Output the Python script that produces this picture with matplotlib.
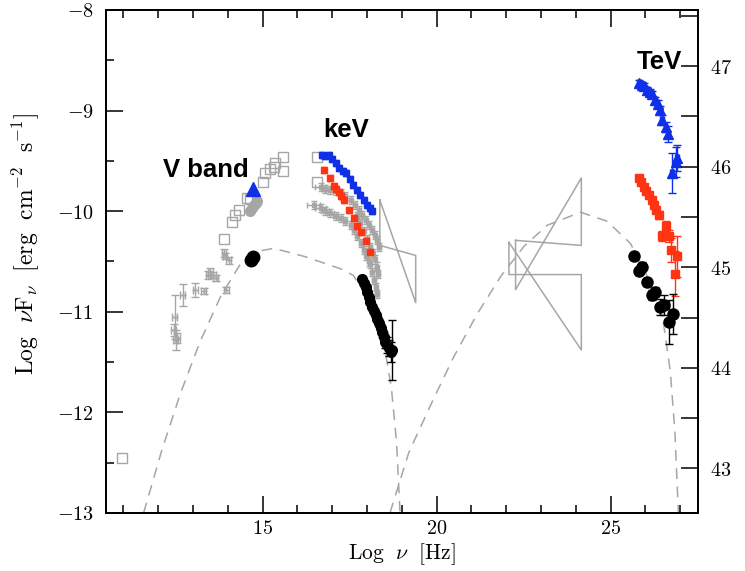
import matplotlib
matplotlib.use("Agg")
import matplotlib.pyplot as plt
from matplotlib.ticker import MultipleLocator, FuncFormatter

plt.rcParams["mathtext.fontset"] = "cm"
plt.rcParams["font.family"] = "DejaVu Serif"

GREY = "#a6a6a6"
BLUE = "#1030e8"
RED = "#ff3412"

# ---- model curves ----
sync_x = [11.58, 12.1, 12.64, 13.2, 13.79, 14.37, 14.99, 15.32, 15.66, 16.2, 16.8, 17.3,
          17.61, 18.0, 18.3, 18.5, 18.7, 18.85, 18.95]
sync_y = [-13.0, -12.38, -11.81, -11.3, -10.85, -10.52, -10.39, -10.37, -10.40, -10.45,
          -10.52, -10.58, -10.64, -10.85, -11.1, -11.35, -11.75, -12.3, -13.0]
ic_x = [18.66, 19.2, 19.92, 20.49, 21.17, 21.84, 22.51, 23.18, 24.14, 24.9, 25.57, 26.0,
        26.52, 26.72, 26.85, 26.95]
ic_y = [-13.0, -12.4, -11.86, -11.45, -11.02, -10.65, -10.35, -10.14, -10.01, -10.10,
        -10.32, -10.6, -11.11, -11.6, -12.2, -13.0]

# ---- bowties (left x, right x, left y pair, right y pair) ----
bow_xray = (18.37, 19.40, (-9.89, -10.34), (-10.91, -10.44))
bow_gev_a = (22.08, 24.16, (-10.31, -10.63), (-11.38, -10.63))
bow_gev_b = (22.27, 24.16, (-10.29, -10.78), (-10.34, -9.67))

# ---- archival grey open squares ----
sq_x = [10.95, 13.89, 14.11, 14.22, 14.33, 14.56, 14.63, 15.02, 15.06, 15.20, 15.33,
        15.36, 15.59, 15.59, 16.57, 16.57]
sq_y = [-12.45, -10.28, -10.11, -10.04, -9.99, -9.87, -9.88, -9.71, -9.62, -9.58, -9.56,
        -9.52, -9.46, -9.60, -9.46, -9.71]

# ---- archival grey IR/optical crosses ----
ir_x = [12.45, 12.50, 12.55, 12.48, 12.71, 13.07, 13.31, 13.43, 13.50, 13.58, 13.65,
        13.89, 13.92, 14.03, 13.96]
ir_y = [-11.18, -11.28, -11.26, -11.05, -10.83, -10.78, -10.79, -10.63, -10.60, -10.63,
        -10.66, -10.42, -10.45, -10.49, -10.78]
ir_yerr = [0.06, 0.1, 0.05, 0.22, 0.11, 0.07, 0.03, 0.04, 0.04, 0.03, 0.03, 0.04, 0.03,
           0.03, 0.03]

# ---- V band ----
vgrey_x = [14.65, 14.70, 14.75, 14.80, 14.85]
vgrey_y = [-10.00, -9.97, -9.94, -9.92, -9.90]
vblue_x = [14.73]
vblue_y = [-9.78]
vblack_x = [14.66, 14.72]
vblack_y = [-10.49, -10.46]

# ---- keV ----
xblue_x = [16.70, 16.80, 16.90, 17.0, 17.1, 17.2, 17.3, 17.4, 17.5, 17.6, 17.7, 17.8,
           17.9, 18.0, 18.1, 18.15]
xblue_y = [-9.44, -9.45, -9.44, -9.48, -9.52, -9.57, -9.60, -9.62, -9.68, -9.74, -9.79,
           -9.84, -9.89, -9.94, -9.97, -10.0]
xred_x = [16.76, 16.93, 17.05, 17.12, 17.19, 17.26, 17.34, 17.48, 17.62, 17.72, 17.84,
          17.96, 18.10]
xred_y = [-9.59, -9.67, -9.75, -9.78, -9.81, -9.85, -9.89, -9.99, -10.07, -10.15, -10.21,
          -10.30, -10.41]
xg1_x = [16.67, 16.80, 16.95, 17.10, 17.24, 17.38, 17.53, 17.65, 17.77, 17.87, 17.96,
         18.05, 18.15, 18.22, 18.29, 18.35]
xg1_y = [-9.76, -9.78, -9.79, -9.80, -9.82, -9.85, -9.89, -9.94, -9.99, -10.04, -10.09,
         -10.14, -10.19, -10.24, -10.29, -10.36]
xg1_xerr = [0.15, 0.1, 0.12, 0.08, 0.06, 0.05, 0.05, 0.05, 0.05, 0.05, 0.05, 0.05, 0.05,
            0.05, 0.05, 0.05]
xg2_x = [16.47, 16.67, 16.80, 16.95, 17.10, 17.24, 17.38, 17.53, 17.63, 17.72, 17.82,
         17.91, 17.98, 18.05, 18.10, 18.15, 18.20, 18.25, 18.29]
xg2_y = [-9.94, -9.97, -10.00, -10.02, -10.05, -10.07, -10.10, -10.14, -10.19, -10.25,
         -10.32, -10.39, -10.45, -10.50, -10.52, -10.60, -10.68, -10.75, -10.82]
xg2_xerr = [0.18, 0.15, 0.12, 0.1, 0.08, 0.07, 0.06, 0.06, 0.06, 0.06, 0.05, 0.05, 0.05,
            0.05, 0.05, 0.05, 0.05, 0.05, 0.05]
xg3_x = [17.70, 17.80, 17.90, 18.00, 18.08, 18.16, 18.22, 18.28, 18.33]
xg3_y = [-10.05, -10.12, -10.20, -10.28, -10.36, -10.42, -10.48, -10.55, -10.62]
xblack_x = [17.86, 17.91, 17.96, 18.00, 18.05, 18.10, 18.15, 18.20, 18.25, 18.30, 18.34,
            18.39, 18.44, 18.49, 18.53, 18.58, 18.63, 18.68, 18.73]
xblack_y = [-10.67, -10.71, -10.75, -10.80, -10.85, -10.90, -10.95, -10.99, -11.03, -11.07,
            -11.11, -11.16, -11.20, -11.25, -11.30, -11.33, -11.36, -11.40, -11.38]
xblack_yerr = [0.02, 0.02, 0.02, 0.02, 0.02, 0.02, 0.03, 0.03, 0.03, 0.03, 0.04, 0.04,
               0.05, 0.05, 0.06, 0.08, 0.08, 0.1, 0.3]

# ---- TeV ----
tblue_x = [25.82, 25.90, 25.96, 26.05, 26.12, 26.20, 26.29, 26.35, 26.42, 26.48, 26.58,
           26.66, 26.87, 26.91, 26.77]
tblue_y = [-8.73, -8.75, -8.76, -8.80, -8.82, -8.84, -8.89, -8.93, -8.99, -9.09, -9.16,
           -9.23, -9.51, -9.47, -9.62]
tblue_yerr = [0.03, 0.03, 0.03, 0.03, 0.03, 0.03, 0.03, 0.04, 0.04, 0.05, 0.05, 0.08,
              0.15, 0.13, 0.2]
tred_x = [25.82, 25.88, 25.96, 26.03, 26.10, 26.18, 26.25, 26.32, 26.39, 26.48, 26.58,
          26.68, 26.74, 26.84, 26.91]
tred_y = [-9.67, -9.71, -9.76, -9.80, -9.84, -9.89, -9.94, -9.99, -10.04, -10.25, -10.15,
          -10.25, -10.39, -10.62, -10.45]
tred_yerr = [0.02, 0.02, 0.02, 0.02, 0.03, 0.03, 0.03, 0.03, 0.04, 0.05, 0.05, 0.06, 0.12,
             0.22, 0.2]
tblack_x = [25.67, 25.82, 25.91, 26.05, 26.20, 26.29, 26.42, 26.53, 26.68, 26.80]
tblack_y = [-10.45, -10.59, -10.55, -10.70, -10.83, -10.80, -10.95, -10.93, -11.10, -11.02]
tblack_yerr = [0.04, 0.04, 0.04, 0.04, 0.05, 0.05, 0.08, 0.1, 0.22, 0.2]

LUM_OFFSET = 55.557


def draw_bowtie(ax, bow):
    x1, x2, (l1, l2), (r1, r2) = bow
    ax.plot([x1, x1, x2, x2, x1], [l1, l2, r2, r1, l1], color=GREY, lw=1.1, zorder=2)


fig = plt.figure(figsize=(7.45, 5.71), dpi=100)
ax = fig.add_axes([0.1423, 0.1016, 0.7940, 0.8809])

ax.plot(sync_x, sync_y, ls=(0, (7, 5)), color=GREY, lw=1.1, zorder=1)
ax.plot(ic_x, ic_y, ls=(0, (7, 5)), color=GREY, lw=1.1, zorder=1)

for b in (bow_xray, bow_gev_a, bow_gev_b):
    draw_bowtie(ax, b)

ax.plot(sq_x, sq_y, "s", mfc="none", mec=GREY, ms=7.5, mew=1.0, zorder=3)
ax.errorbar(ir_x, ir_y, yerr=ir_yerr, xerr=0.07, fmt="+", color=GREY, ms=5,
            elinewidth=1.0, capsize=3, zorder=3)

ax.plot(vgrey_x, vgrey_y, "o", color=GREY, ms=7, zorder=4)
ax.plot(vblue_x, vblue_y, "^", color=BLUE, ms=10, zorder=5)
ax.plot(vblack_x, vblack_y, "o", color="black", ms=9, zorder=5)

ax.errorbar(xg1_x, xg1_y, xerr=xg1_xerr, yerr=0.04, fmt="s", color=GREY, ms=3.5,
            elinewidth=1.0, capsize=2.5, zorder=3)
ax.errorbar(xg2_x, xg2_y, xerr=xg2_xerr, yerr=0.04, fmt="s", color=GREY, ms=3.5,
            elinewidth=1.0, capsize=2.5, zorder=3)
ax.errorbar(xg3_x, xg3_y, xerr=0.05, yerr=0.04, fmt="s", color=GREY, ms=3.5,
            elinewidth=1.0, capsize=2.5, zorder=3)
ax.errorbar(xblue_x, xblue_y, xerr=0.04, yerr=0.03, fmt="s", color=BLUE, ms=4,
            elinewidth=1.0, capsize=2, zorder=4)
ax.errorbar(xred_x, xred_y, xerr=0.04, yerr=0.03, fmt="s", color=RED, ms=5,
            elinewidth=1.0, capsize=2, zorder=4)
ax.errorbar(xblack_x, xblack_y, yerr=xblack_yerr, xerr=0.04, fmt="o", color="black", ms=7,
            elinewidth=1.0, capsize=3, zorder=5)

ax.errorbar(tblue_x, tblue_y, yerr=tblue_yerr, xerr=0.05, fmt="^", color=BLUE, ms=7,
            elinewidth=1.0, capsize=3, zorder=4)
ax.errorbar(tred_x, tred_y, yerr=tred_yerr, xerr=0.05, fmt="s", color=RED, ms=5.5,
            elinewidth=1.0, capsize=3, zorder=4)
ax.errorbar(tblack_x, tblack_y, yerr=tblack_yerr, xerr=0.05, fmt="o", color="black", ms=8,
            elinewidth=1.0, capsize=3, zorder=5)

label_font = dict(fontsize=18.5, fontweight="bold", family="Liberation Sans",
                  ha="center", va="center")
ax.text(13.36, -9.59, "V band", **label_font)
ax.text(17.4, -9.19, "keV", **label_font)
ax.text(26.4, -8.52, "TeV", **label_font)

ax.set_xlim(10.5, 27.5)
ax.set_ylim(-13, -8)
ax.xaxis.set_major_locator(MultipleLocator(5))
ax.xaxis.set_minor_locator(MultipleLocator(1))
ax.yaxis.set_major_locator(MultipleLocator(1))
ax.yaxis.set_minor_locator(MultipleLocator(0.5))
fmt = FuncFormatter(lambda v, p: f"${v:g}$")
ax.xaxis.set_major_formatter(fmt)
ax.yaxis.set_major_formatter(fmt)
ax.tick_params(which="both", direction="in", top=True, right=False, labelsize=14.5, width=1.1)
ax.tick_params(which="major", length=12)
ax.tick_params(which="minor", length=6)
ax.tick_params(axis="x", which="major", pad=4)
ax.tick_params(axis="y", which="major", pad=9)
ax.set_xlabel(r"$\mathrm{Log}\ \ \nu\ \ [\mathrm{Hz}]$", fontsize=15.5)
ax.xaxis.set_label_coords(0.5, -0.057)
ax.set_ylabel(r"$\mathrm{Log}\ \ \nu\mathrm{F}_\nu\ \ [\mathrm{erg\ \ cm^{-2}\ \ s^{-1}}]$",
              fontsize=17)
ax.yaxis.set_label_coords(-0.108, 0.535)
for s in ax.spines.values():
    s.set_linewidth(1.3)

ax2 = ax.twinx()
ax2.set_ylim(-13 + LUM_OFFSET, -8 + LUM_OFFSET)
ax2.yaxis.set_major_locator(MultipleLocator(1))
ax2.yaxis.set_minor_locator(MultipleLocator(0.5))
ax2.yaxis.set_major_formatter(fmt)
ax2.tick_params(which="both", direction="in", labelsize=14.5, width=1.1)
ax2.tick_params(which="major", length=12, pad=9)
ax2.tick_params(which="minor", length=12)
for s in ax2.spines.values():
    s.set_linewidth(1.3)

fig.savefig("out.png", dpi=100)
